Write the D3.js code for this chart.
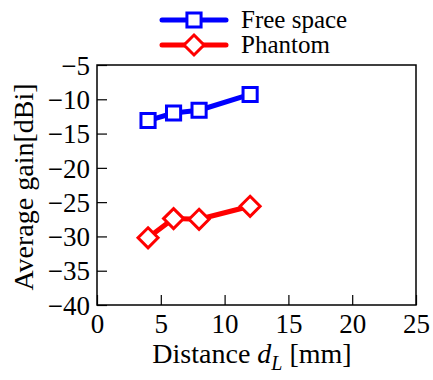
<!DOCTYPE html>
<html>
<head>
<meta charset="utf-8">
<script src="https://cdn.jsdelivr.net/npm/d3@7"></script>
<style>
	body { margin: 0; background: #fff; }
</style>
</head>
<body>
<svg id="chart" width="433" height="380"></svg>
<script>
// data
var distances = [4, 6, 8, 12];
var freeSpace = [-13.1, -12.0, -11.6, -9.3];
var phantom = [-30.2, -27.4, -27.5, -25.6];
var xTicks = [0, 5, 10, 15, 20, 25];
var yTicks = [-5, -10, -15, -20, -25, -30, -35, -40];
var seriesNames = ["Free space", "Phantom"];

var FONT = "'Liberation Serif', 'Times New Roman', serif";
var svg = d3.select("#chart");
var plotLeft = 97, plotRight = 416, plotTop = 65, plotBottom = 305;

var x = d3.scaleLinear().domain([0, 25]).range([plotLeft, plotRight]);
var y = d3.scaleLinear().domain([-40, -5]).range([plotBottom, plotTop]);

/*
Axes, ticks point inward
*/
var xAxis = svg.append("g").attr("transform", "translate(0," + plotBottom + ")")
	.call(d3.axisBottom(x).tickValues(xTicks).tickSizeInner(-10).tickSizeOuter(0).tickPadding(9));
var yAxis = svg.append("g").attr("transform", "translate(" + plotLeft + ",0)")
	.call(d3.axisLeft(y).tickValues(yTicks).tickSizeInner(-10).tickSizeOuter(0).tickPadding(7));
[xAxis, yAxis].forEach(function(a) {
	a.attr("font-family", FONT).attr("font-size", 27);
	a.select(".domain").remove();
	a.selectAll("line").attr("stroke", "#000").attr("stroke-width", 1.2);
	a.selectAll("text").attr("fill", "#000");
});
xAxis.selectAll("text").attr("dy", "0.71em");
yAxis.selectAll("text").attr("dy", "0.34em");

svg.append("rect").attr("x", plotLeft).attr("y", plotTop).attr("width", plotRight - plotLeft).attr("height", plotBottom - plotTop)
	.attr("fill", "none").attr("stroke", "#000").attr("stroke-width", 1.5);

/*
Axis labels
*/
var xl = svg.append("text").attr("x", 252).attr("y", 363).attr("text-anchor", "middle")
	.attr("font-family", FONT).attr("font-size", 28);
xl.append("tspan").text("Distance ");
xl.append("tspan").attr("font-style", "italic").text("d");
xl.append("tspan").attr("font-style", "italic").attr("font-size", 20).attr("dy", 7).text("L");
xl.append("tspan").attr("dy", -7).text(" [mm]");

svg.append("text").attr("transform", "translate(33,187) rotate(-90)").attr("text-anchor", "middle")
	.attr("font-family", FONT).attr("font-size", 28).text("Average gain[dBi]");

/*
Series
*/
var line = d3.line().x(function(d) { return x(d[0]); }).y(function(d) { return y(d[1]); });
var square = d3.symbol().type(d3.symbolSquare).size(200);
var diamond = function(cx, cy, r) {
	return "M" + cx + "," + (cy - r) + "L" + (cx + r) + "," + cy + "L" + cx + "," + (cy + r) + "L" + (cx - r) + "," + cy + "Z";
};

var series = [
	{ name: seriesNames[0], values: freeSpace, color: "#0000ff", shape: "square" },
	{ name: seriesNames[1], values: phantom, color: "#ff0000", shape: "diamond" }
];

function drawMarker(g, s, cx, cy) {
	if (s.shape === "square") {
		g.append("path").attr("d", square()).attr("transform", "translate(" + cx + "," + cy + ")")
			.attr("fill", "#fff").attr("stroke", s.color).attr("stroke-width", 3);
	} else {
		g.append("path").attr("d", diamond(cx, cy, 10))
			.attr("fill", "#fff").attr("stroke", s.color).attr("stroke-width", 3);
	}
}

series.forEach(function(s) {
	var pts = distances.map(function(d, i) { return [d, s.values[i]]; });
	var g = svg.append("g");
	g.append("path").attr("d", line(pts)).attr("fill", "none").attr("stroke", s.color)
		.attr("stroke-width", 5).attr("stroke-linejoin", "round");
	pts.forEach(function(p) { drawMarker(g, s, x(p[0]), y(p[1])); });
});

/*
Legend
*/
series.forEach(function(s, i) {
	var ly = 20 + i * 25;
	var g = svg.append("g");
	g.append("line").attr("x1", 162).attr("x2", 226).attr("y1", ly).attr("y2", ly)
		.attr("stroke", s.color).attr("stroke-width", 5).attr("stroke-linecap", "round");
	drawMarker(g, s, 194, ly);
	g.append("text").attr("x", 241).attr("y", ly + 8).attr("font-family", FONT).attr("font-size", 25).text(s.name);
});
</script>
</body>
</html>
